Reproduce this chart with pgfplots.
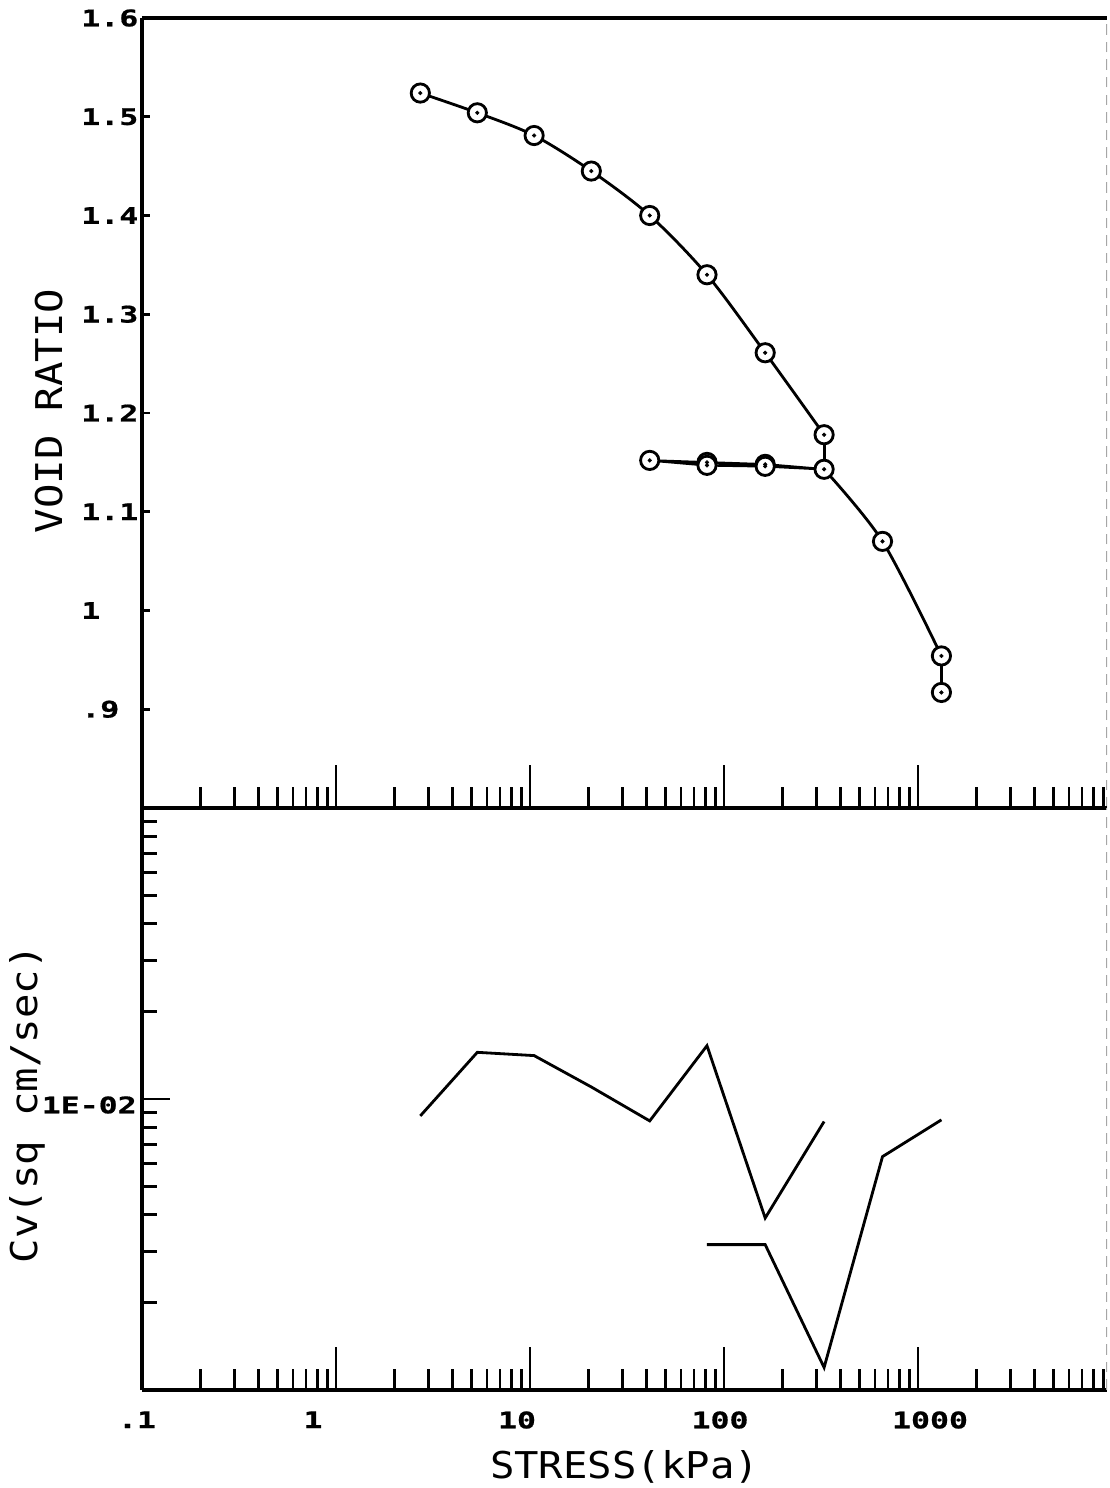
\documentclass[border=0pt]{standalone}
\usepackage{pgfplots}
\pgfplotsset{compat=1.18}
\usepackage{fontspec}
\setmainfont{DejaVu Sans}
\setmonofont{DejaVu Sans Mono}
\newfontfamily\tickfont[FakeStretch=1.38, FakeBold=0.8]{DejaVu Sans Mono}
\newfontfamily\labfont[FakeStretch=1.1]{DejaVu Sans Mono}

\pgfplotstableread{
x e
2.72 1.524
5.35 1.504
10.5 1.481
20.7 1.445
41.4 1.400
81.7 1.340
163 1.261
328 1.178
}\tabLoadA
\pgfplotstableread{
x e
328 1.178
328 1.143
}\tabVertA
\pgfplotstableread{
x e
328 1.143
163 1.148
81.7 1.150
41.4 1.152
81.7 1.147
163 1.146
328 1.143
}\tabCycle
\pgfplotstableread{
x e
328 1.143
656 1.070
1320 0.954
}\tabLoadB
\pgfplotstableread{
x e
1320 0.954
1320 0.917
}\tabVertB
\pgfplotstableread{
x e
2.72 1.524
5.35 1.504
10.5 1.481
20.7 1.445
41.4 1.400
81.7 1.340
163 1.261
328 1.178
328 1.143
163 1.148
81.7 1.150
41.4 1.152
81.7 1.147
163 1.146
656 1.070
1320 0.954
1320 0.917
}\tabMarks
\pgfplotstableread{
x cv
2.72 0.00875
5.35 0.01447
10.5 0.0141
20.7 0.0110
41.4 0.00841
81.7 0.01525
163 0.00390
328 0.00837
}\tabCvA
\pgfplotstableread{
x cv
81.7 0.00316
163 0.00316
328 0.001195
656 0.00634
1320 0.00848
}\tabCvB

\begin{document}
\begin{tikzpicture}
\useasboundingbox (-28.4mm,-136mm) rectangle (193.6mm,161.6mm);
% ---- top: data and x ticks
\begin{axis}[name=top, at={(0,0)}, anchor=south west,
  scale only axis, width=193mm, height=158mm,
  xmode=log, xmin=0.1, xmax=9420, ymin=0.8, ymax=1.6,
  axis x line*=box, axis y line*=left,
  axis line style={line width=2.2pt},
  tick style={line width=1.6pt, black},
  tick align=inside, tick pos=left,
  xtick={0.1,1,10,100,1000}, xticklabels={},
  minor xtick={0.2,0.3,0.4,0.5,0.6,0.7,0.8,0.9,2,3,4,5,6,7,8,9,20,30,40,50,60,70,80,90,200,300,400,500,600,700,800,900,2000,3000,4000,5000,6000,7000,8000,9000},
  major tick length=8.6mm, minor tick length=4.2mm,
  ytick=\empty,
]
\draw[black!35, line width=0.6pt, dash pattern=on 6pt off 4pt] (rel axis cs:1,0) -- (rel axis cs:1,1);
\addplot[smooth, no marks, line width=1.6pt] table[x=x,y=e] {\tabLoadA};
\addplot[no marks, line width=1.6pt] table[x=x,y=e] {\tabVertA};
\addplot[no marks, line width=1.4pt] table[x=x,y=e] {\tabCycle};
\addplot[smooth, no marks, line width=1.6pt] table[x=x,y=e] {\tabLoadB};
\addplot[no marks, line width=1.6pt] table[x=x,y=e] {\tabVertB};
\addplot[only marks, mark=*, mark size=5.2pt, mark options={fill=white, draw=black, line width=1.6pt}] table[x=x,y=e] {\tabMarks};
\addplot[only marks, mark=*, mark size=1.05pt, mark options={fill=black, draw=black, line width=0.3pt}] table[x=x,y=e] {\tabMarks};
\end{axis}
% ---- top: y ticks and labels
\begin{axis}[at={(0,0)}, anchor=south west,
  scale only axis, width=193mm, height=158mm,
  xmin=0, xmax=1, ymin=0.8, ymax=1.6,
  axis line style={draw=none},
  tick style={line width=1.6pt, black},
  tick align=inside, tick pos=left,
  xtick=\empty,
  ytick={0.9,1,1.1,1.2,1.3,1.4,1.5,1.6},
  yticklabels={.9,1,1.1,1.2,1.3,1.4,1.5,1.6},
  major tick length=1.6mm,
  yticklabel style={font=\tickfont\bfseries\fontsize{13}{13}\selectfont, anchor=west, inner sep=0pt, xshift=-12.2mm},
  ylabel={VOID RATIO},
  ylabel style={font=\labfont\fontsize{21}{21}\selectfont, at={(axis description cs:-0.0819,0.5025)}, anchor=base},
]
\end{axis}
% ---- bottom: data and x ticks
\begin{axis}[at={(0,0)}, anchor=north west,
  scale only axis, width=193mm, height=116.4mm,
  xmode=log, ymode=log, xmin=0.1, xmax=9420, ymin=0.001, ymax=0.1,
  axis x line*=box, axis y line*=left,
  axis line style={line width=2.2pt},
  tick style={line width=1.6pt, black},
  tick align=inside, tick pos=left,
  xtick={0.1,1,10,100,1000},
  xticklabels={\makebox[0pt]{\hspace*{-2mm}.1},\makebox[0pt]{\hspace*{-9.2mm}1},\makebox[0pt]{\hspace*{-5.2mm}10},\makebox[0pt]{\hspace*{-1.6mm}100},\makebox[0pt]{\hspace*{4.8mm}1000}},
  minor xtick={0.2,0.3,0.4,0.5,0.6,0.7,0.8,0.9,2,3,4,5,6,7,8,9,20,30,40,50,60,70,80,90,200,300,400,500,600,700,800,900,2000,3000,4000,5000,6000,7000,8000,9000},
  major tick length=8.6mm, minor tick length=4.2mm,
  ytick=\empty,
  xticklabel style={font=\tickfont\bfseries\fontsize{13}{13}\selectfont, anchor=north, inner sep=0pt, yshift=-4.2mm},
  xlabel={STRESS(kPa)},
  xlabel style={font=\labfont\fontsize{21}{21}\selectfont, at={(axis description cs:0.5,-0.1512)}, anchor=base},
]
\draw[black!35, line width=0.6pt, dash pattern=on 6pt off 4pt] (rel axis cs:1,0) -- (rel axis cs:1,1);
\addplot[no marks, line width=1.6pt] table[x=x,y=cv] {\tabCvA};
\addplot[no marks, line width=1.6pt] table[x=x,y=cv] {\tabCvB};
\end{axis}
% ---- bottom: y ticks and labels
\begin{axis}[at={(0,0)}, anchor=north west,
  scale only axis, width=193mm, height=116.4mm,
  ymode=log, xmin=0, xmax=1, ymin=0.001, ymax=0.1,
  axis line style={draw=none},
  tick style={line width=1.6pt, black},
  tick align=inside, tick pos=left,
  xtick=\empty,
  ytick={0.01}, yticklabels={1E-02},
  minor ytick={0.002,0.003,0.004,0.005,0.006,0.007,0.008,0.009,0.02,0.03,0.04,0.05,0.06,0.07,0.08,0.09},
  major tick length=5.6mm, minor tick length=3mm,
  yticklabel style={font=\tickfont\bfseries\fontsize{13}{13}\selectfont, anchor=east, inner sep=0pt, xshift=-1mm, yshift=-1.2mm},
  ylabel={Cv(sq cm/sec)},
  ylabel style={font=\labfont\fontsize{21}{21}\selectfont, at={(axis description cs:-0.1088,0.491)}, anchor=base},
]
\end{axis}
\end{tikzpicture}
\end{document}
